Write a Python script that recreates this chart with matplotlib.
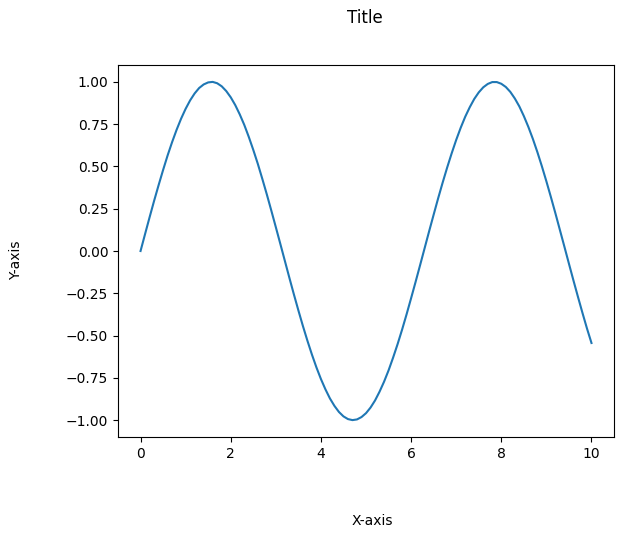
import matplotlib
matplotlib.use("Agg")
import matplotlib.pyplot as plt

# values, every 0.1 along x
x_values = [0.0, 0.1, 0.2, 0.3, 0.4, 0.5, 0.6, 0.7, 0.8, 0.9,
            1.0, 1.1, 1.2, 1.3, 1.4, 1.5, 1.6, 1.7, 1.8, 1.9,
            2.0, 2.1, 2.2, 2.3, 2.4, 2.5, 2.6, 2.7, 2.8, 2.9,
            3.0, 3.1, 3.2, 3.3, 3.4, 3.5, 3.6, 3.7, 3.8, 3.9,
            4.0, 4.1, 4.2, 4.3, 4.4, 4.5, 4.6, 4.7, 4.8, 4.9,
            5.0, 5.1, 5.2, 5.3, 5.4, 5.5, 5.6, 5.7, 5.8, 5.9,
            6.0, 6.1, 6.2, 6.3, 6.4, 6.5, 6.6, 6.7, 6.8, 6.9,
            7.0, 7.1, 7.2, 7.3, 7.4, 7.5, 7.6, 7.7, 7.8, 7.9,
            8.0, 8.1, 8.2, 8.3, 8.4, 8.5, 8.6, 8.7, 8.8, 8.9,
            9.0, 9.1, 9.2, 9.3, 9.4, 9.5, 9.6, 9.7, 9.8, 9.9, 10.0]
y_values = [0.000, 0.100, 0.199, 0.296, 0.389, 0.479, 0.565, 0.644, 0.717, 0.783,
            0.841, 0.891, 0.932, 0.964, 0.985, 0.997, 1.000, 0.992, 0.974, 0.946,
            0.909, 0.863, 0.808, 0.746, 0.675, 0.598, 0.516, 0.427, 0.335, 0.239,
            0.141, 0.042, -0.058, -0.158, -0.256, -0.351, -0.443, -0.530, -0.612, -0.688,
            -0.757, -0.818, -0.872, -0.916, -0.952, -0.978, -0.994, -1.000, -0.996, -0.982,
            -0.959, -0.926, -0.884, -0.832, -0.773, -0.706, -0.631, -0.551, -0.465, -0.374,
            -0.279, -0.182, -0.083, 0.017, 0.117, 0.215, 0.312, 0.405, 0.494, 0.578,
            0.657, 0.729, 0.794, 0.850, 0.899, 0.938, 0.968, 0.988, 0.999, 0.999,
            0.989, 0.970, 0.941, 0.902, 0.855, 0.798, 0.734, 0.663, 0.585, 0.501,
            0.412, 0.319, 0.223, 0.124, 0.025, -0.075, -0.174, -0.271, -0.366, -0.458, -0.544]

fig = plt.figure(figsize=(6.23, 5.38), dpi=100)
ax = fig.add_axes([0.1894, 0.1877, 0.7962, 0.6915])
ax.plot(x_values, y_values, color="#1f77b4", linewidth=1.5)

fig.text(0.586, 0.9665, "Title", ha="center", va="center", fontsize=12)
fig.text(0.597, 0.0316, "X-axis", ha="center", va="center", fontsize=10)
fig.text(0.0257, 0.5167, "Y-axis", ha="center", va="center", rotation=90, fontsize=10)

fig.savefig("out.png", dpi=100)
